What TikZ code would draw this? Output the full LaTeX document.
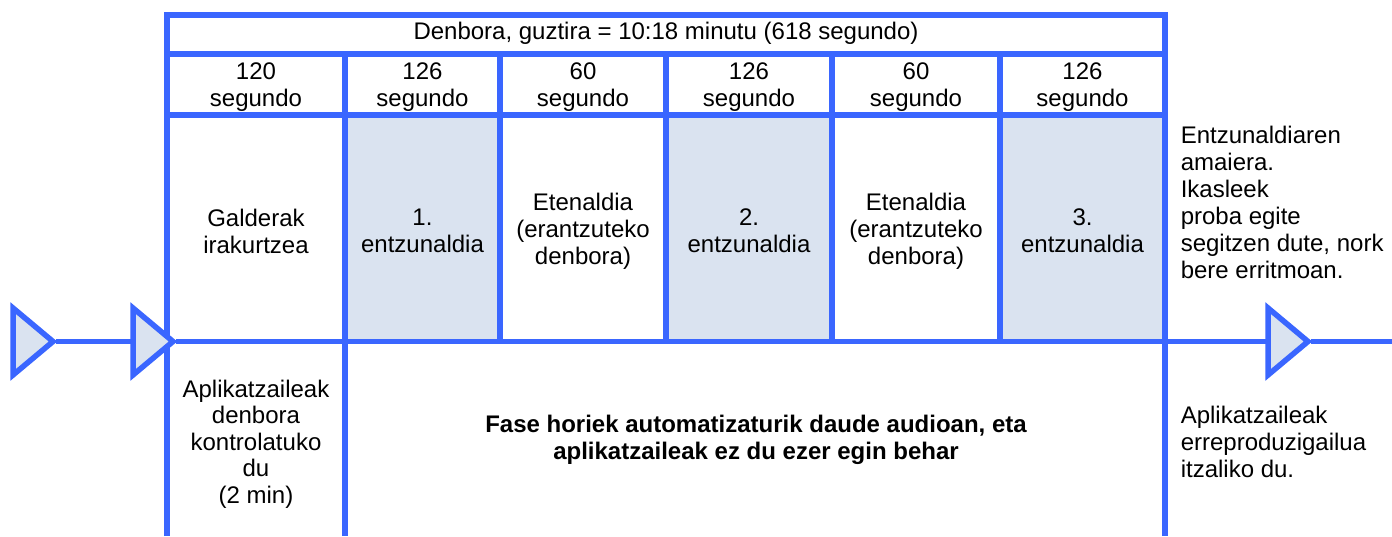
\documentclass[tikz,border=0pt]{standalone}
\usepackage{fontspec}
\setmainfont{Liberation Sans}
\definecolor{lb}{RGB}{58,102,255}
\definecolor{fl}{RGB}{218,227,240}
\begin{document}
\begin{tikzpicture}[x=1pt,y=-1pt,line width=5.5pt,line join=miter,
  grid/.style={draw=lb},
  shade/.style={fill=fl},
  tri/.style={draw=lb,fill=fl},
  txt/.style={font=\fontsize{24}{27}\selectfont,align=center,inner sep=0pt,text=black},
  ltxt/.style={font=\fontsize{24}{27}\selectfont,align=left,inner sep=0pt,anchor=west,text=black},
  btxt/.style={font=\fontsize{24}{26.5}\selectfont\bfseries,align=center,inner sep=0pt,text=black}]
\useasboundingbox (0,0) rectangle (1392,536);
% shaded cells
\fill[shade] (345,115) rectangle (500,341.5);
\fill[shade] (666,115) rectangle (832,341.5);
\fill[shade] (1000,115) rectangle (1165,341.5);
% coordinates of the timeline
\coordinate (t1tip) at (56,341.5);
\coordinate (t2base) at (133,341.5);
\coordinate (t2tip) at (176,341.5);
\coordinate (t3base) at (1268,341.5);
\coordinate (t3tip) at (1311,341.5);
\coordinate (tend) at (1392,341.5);
% grid
\draw[grid] (167,536) -- (167,15) -- (1165,15) -- (1165,536);
\draw[grid] (167,54) -- (1165,54);
\draw[grid] (167,115) -- (1165,115);
\draw[grid] (345,54) -- (345,536);
\draw[grid] (500,54) -- (500,341.5);
\draw[grid] (666,54) -- (666,341.5);
\draw[grid] (832,54) -- (832,341.5);
\draw[grid] (1000,54) -- (1000,341.5);
% timeline
\draw[grid] (t1tip) -- (t2base);
\draw[grid] (t2tip) -- (t3base);
\draw[grid] (t3tip) -- (tend);
\draw[tri] (13,308) -- (13,375) -- (53,341.5) -- cycle;
\draw[tri] (133,308) -- (133,375) -- (173,341.5) -- cycle;
\draw[tri] (1268,308) -- (1268,375) -- (1308,341.5) -- cycle;
% texts
\node[txt] (title) at (666,33) {Denbora, guztira = 10:18 minutu (618 segundo)};
\node[txt] (s1) at (256,87) {120\\segundo};
\node[txt] (s2) at (422.5,87) {126\\segundo};
\node[txt] (s3) at (583,87) {60\\segundo};
\node[txt] (s4) at (749,87) {126\\segundo};
\node[txt] (s5) at (916,87) {60\\segundo};
\node[txt] (s6) at (1082.5,87) {126\\segundo};
\node[txt] (c1) at (256,231) {Galderak\\irakurtzea};
\node[txt] (c2) at (422.5,231) {1.\\entzunaldia};
\node[txt] (c3) at (583,231) {Etenaldia\\(erantzuteko\\denbora)};
\node[txt] (c4) at (749,231) {2.\\entzunaldia};
\node[txt] (c5) at (916,231) {Etenaldia\\(erantzuteko\\denbora)};
\node[txt] (c6) at (1082.5,231) {3.\\entzunaldia};
\node[ltxt] (end) at (1178,202) {Entzunaldiaren\\amaiera.\\Ikasleek\\proba egite\\segitzen dute, nork\\bere erritmoan.};
\node[txt,font=\fontsize{24}{26.5}\selectfont] (ctrl) at (256,444) {Aplikatzaileak\\denbora\\kontrolatuko\\du\\(2 min)};
\node[btxt] (auto) at (756,440) {Fase horiek automatizaturik daude audioan, eta\\aplikatzaileak ez du ezer egin behar};
\node[ltxt] (off) at (1178,442) {Aplikatzaileak\\erreproduzigailua\\itzaliko du.};
\end{tikzpicture}
\end{document}
